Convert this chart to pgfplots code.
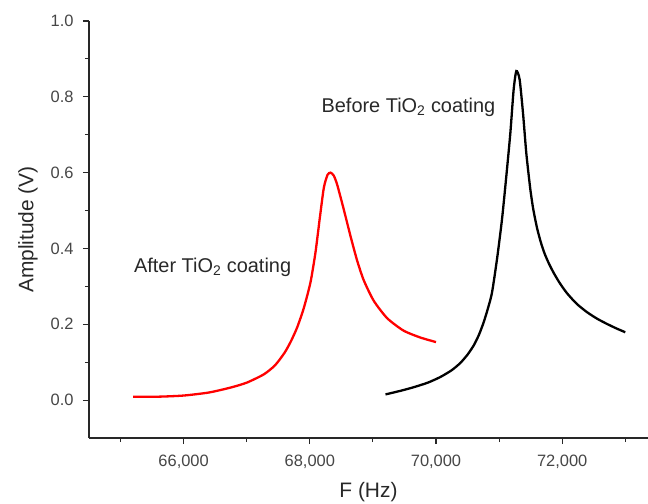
\documentclass[border=0pt]{standalone}
\usepackage{fontspec}
\setmainfont{Liberation Sans}
\usepackage{pgfplots}
\pgfplotsset{compat=1.18}
\definecolor{txt}{RGB}{70,70,70}
\definecolor{axl}{RGB}{40,40,40}
\begin{document}
\begin{tikzpicture}
\path[use as bounding box] (-89bp,-66bp) rectangle (559bp,438bp);
\begin{axis}[
  at={(0,0)}, anchor=south west,
  scale only axis, width=559bp, height=417bp,
  xmin=64500, xmax=73360, ymin=-0.1, ymax=1.0,
  axis x line*=bottom, axis y line*=left,
  axis line style={line width=1.2bp, axl},
  xtick={66000,68000,70000,72000},
  minor xtick={65000,67000,69000,71000,73000},
  ytick={0,0.2,0.4,0.6,0.8,1.0},
  minor ytick={0.1,0.3,0.5,0.7,0.9},
  tick align=outside, major tick length=6bp, minor tick length=4bp,
  tick style={line width=1.1bp, axl},
  scaled x ticks=false, scaled y ticks=false,
  /pgf/number format/assume math mode=true,
  xticklabel style={/pgf/number format/1000 sep={,}, font=\fontsize{16.5}{19}\selectfont, text=txt, yshift=-7bp},
  yticklabel style={/pgf/number format/fixed, /pgf/number format/fixed zerofill, /pgf/number format/precision=1, font=\fontsize{16.5}{19}\selectfont, text=txt, xshift=-6bp},
  xlabel={F (Hz)},
  ylabel={Amplitude (V)},
  xlabel style={at={(axis description cs:0.5,-0.1295)}, anchor=center, font=\fontsize{21}{25}\selectfont, text=axl},
  ylabel style={at={(axis description cs:-0.109,0.5)}, anchor=center, font=\fontsize{21}{25}\selectfont, text=axl},
]
\addplot[red, line width=2.3bp, smooth, tension=0.4] table {
x y
65200 0.009
65600 0.009
66000 0.012
66400 0.020
66744 0.033
67000 0.046
67272 0.068
67450 0.092
67600 0.125
67700 0.155
67800 0.192
67905 0.243
68011 0.311
68090 0.390
68158 0.480
68222 0.560
68280 0.594
68328 0.600
68380 0.592
68434 0.568
68538 0.503
68644 0.433
68750 0.368
68855 0.316
69013 0.262
69226 0.216
69488 0.183
69753 0.165
70000 0.153
};
\addplot[black, line width=2.3bp, smooth, tension=0.4] table {
x y
69200 0.015
69450 0.025
69647 0.034
69870 0.046
70070 0.061
70250 0.079
70386 0.098
70500 0.120
70597 0.144
70680 0.172
70755 0.205
70825 0.243
70888 0.284
70967 0.372
71046 0.477
71114 0.590
71178 0.704
71230 0.818
71273 0.868
71325 0.846
71379 0.757
71432 0.650
71495 0.556
71540 0.505
71600 0.455
71660 0.417
71720 0.387
71790 0.360
71864 0.336
71960 0.309
72076 0.282
72230 0.254
72393 0.232
72550 0.215
72709 0.201
72860 0.189
73000 0.179
};
\node[font=\fontsize{20}{24}\selectfont, text=axl] at (axis cs:69563,0.773) {Before TiO\textsubscript{2} coating};
\node[font=\fontsize{20}{24}\selectfont, text=axl] at (axis cs:66459,0.351) {After TiO\textsubscript{2} coating};
\end{axis}
\end{tikzpicture}
\end{document}
